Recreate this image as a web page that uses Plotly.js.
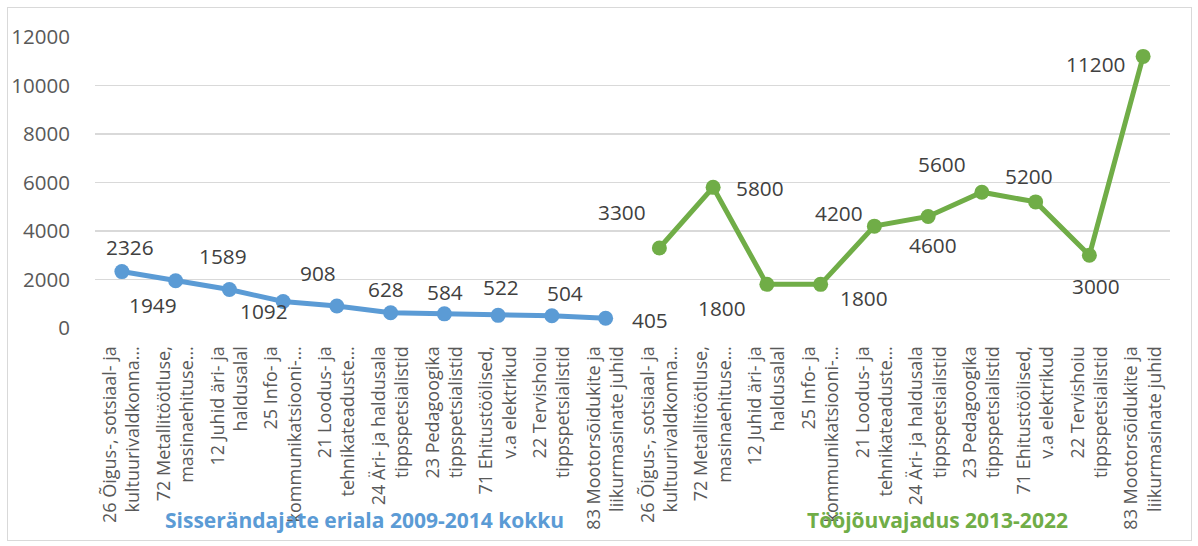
<!DOCTYPE html>
<html>
<head>
<meta charset="utf-8">
<script src="https://cdn.plot.ly/plotly-3.0.1.min.js"></script>
<style>
  html, body { margin: 0; padding: 0; background: #fff; }
  #wrap { position: relative; width: 1198px; height: 546px; }
  #frame { position: absolute; left: 7px; top: 7px; width: 1183px; height: 532px; border: 1px solid #D9D9D9; pointer-events: none; }
  #chart { position: absolute; left: 0; top: 0; width: 1198px; height: 546px; }
</style>
</head>
<body>
<div id="wrap">
  <div id="chart"></div>
  <div id="frame"></div>
</div>
<script>
// ---- data ----
const categories = [
  "26 Õigus-, sotsiaal- ja<br>kultuurivaldkonna…",
  "72 Metallitöötluse,<br>masinaehituse…",
  "12 Juhid äri- ja<br>haldusalal",
  "25 Info- ja<br>kommunikatsiooni-…",
  "21 Loodus- ja<br>tehnikateaduste…",
  "24 Äri- ja haldusala<br>tippspetsialistid",
  "23 Pedagoogika<br>tippspetsialistid",
  "71 Ehitustöölised,<br>v.a elektrikud",
  "22 Tervishoiu<br>tippspetsialistid",
  "83 Mootorsõidukite ja<br>liikurmasinate juhid"
];
const immigrantValues = [2326, 1949, 1589, 1092, 908, 628, 584, 522, 504, 405];
const demandValues = [3300, 5800, 1800, 1800, 4200, 4600, 5600, 5200, 3000, 11200];
const seriesNames = ["Sisserändajate eriala 2009-2014 kokku", "Tööjõuvajadus 2013-2022"];
const yTickValues = [0, 2000, 4000, 6000, 8000, 10000, 12000];

// label placement offsets (px) – styling only
const immigrantLabelShift = [[8,25],[-23,-24],[-6,33],[-19,-9],[-19,33],[-5,24],[1,22],[3,28],[13,23],[44,-2]];
const demandLabelShift = [[-37,36],[47,-1],[-45,-24],[43,-14],[-35,13],[5,-29],[-40,28],[-7,26],[7,-31],[-48,-8]];

// ---- build ----
const n = categories.length;
const xImm = categories.map((c, i) => i);
const xDem = categories.map((c, i) => i + n);
const tickVals = xImm.concat(xDem);
const tickText = categories.concat(categories);

const blue = "#5B9BD5";
const green = "#70AD47";
const font = "Open Sans, Noto Sans, sans-serif";

const traces = [
  { x: xImm, y: immigrantValues, type: "scatter", mode: "lines+markers", name: seriesNames[0],
    line: { color: blue, width: 5 }, marker: { color: blue, size: 15 }, hoverinfo: "y" },
  { x: xDem, y: demandValues, type: "scatter", mode: "lines+markers", name: seriesNames[1],
    line: { color: green, width: 5 }, marker: { color: green, size: 15 }, hoverinfo: "y" }
];

const labelFont = { family: font, size: 20.8, color: "#404040" };
const annotations = [];
immigrantValues.forEach((v, i) => annotations.push({
  x: xImm[i], y: v, text: String(v), showarrow: false,
  xshift: immigrantLabelShift[i][0], yshift: immigrantLabelShift[i][1], font: labelFont
}));
demandValues.forEach((v, i) => annotations.push({
  x: xDem[i], y: v, text: String(v), showarrow: false,
  xshift: demandLabelShift[i][0], yshift: demandLabelShift[i][1], font: labelFont
}));
annotations.push({
  xref: "paper", yref: "paper", x: 0.251, y: -0.66, xanchor: "center", yanchor: "middle",
  text: "<b>" + seriesNames[0] + "</b>",
  showarrow: false, font: { family: font, size: 21, color: blue }
});
annotations.push({
  xref: "paper", yref: "paper", x: 0.784, y: -0.66, xanchor: "center", yanchor: "middle",
  text: "<b>" + seriesNames[1] + "</b>",
  showarrow: false, font: { family: font, size: 21, color: green }
});

const layout = {
  width: 1198, height: 546,
  margin: { l: 95, r: 28, t: 37, b: 218 },
  paper_bgcolor: "#fff", plot_bgcolor: "#fff",
  showlegend: false,
  font: { family: font, color: "#595959" },
  xaxis: {
    range: [-0.5, 2 * n - 0.5],
    tickmode: "array", tickvals: tickVals, ticktext: tickText,
    tickangle: -90, ticks: "outside", ticklen: 10, tickcolor: "rgba(0,0,0,0)",
    tickfont: { family: font, size: 18, color: "#595959" },
    showgrid: false, zeroline: false, showline: false, fixedrange: true
  },
  yaxis: {
    range: [0, 12000], tickmode: "array", tickvals: yTickValues,
    ticktext: yTickValues.map(String),
    ticks: "outside", ticklen: 20, tickcolor: "rgba(0,0,0,0)",
    tickfont: { family: font, size: 20.5, color: "#595959" },
    showgrid: true, gridcolor: "#D9D9D9", gridwidth: 1.5,
    zeroline: false, showline: false, fixedrange: true
  },
  annotations: annotations
};

Plotly.newPlot("chart", traces, layout, { displayModeBar: false, staticPlot: true });
</script>
</body>
</html>
